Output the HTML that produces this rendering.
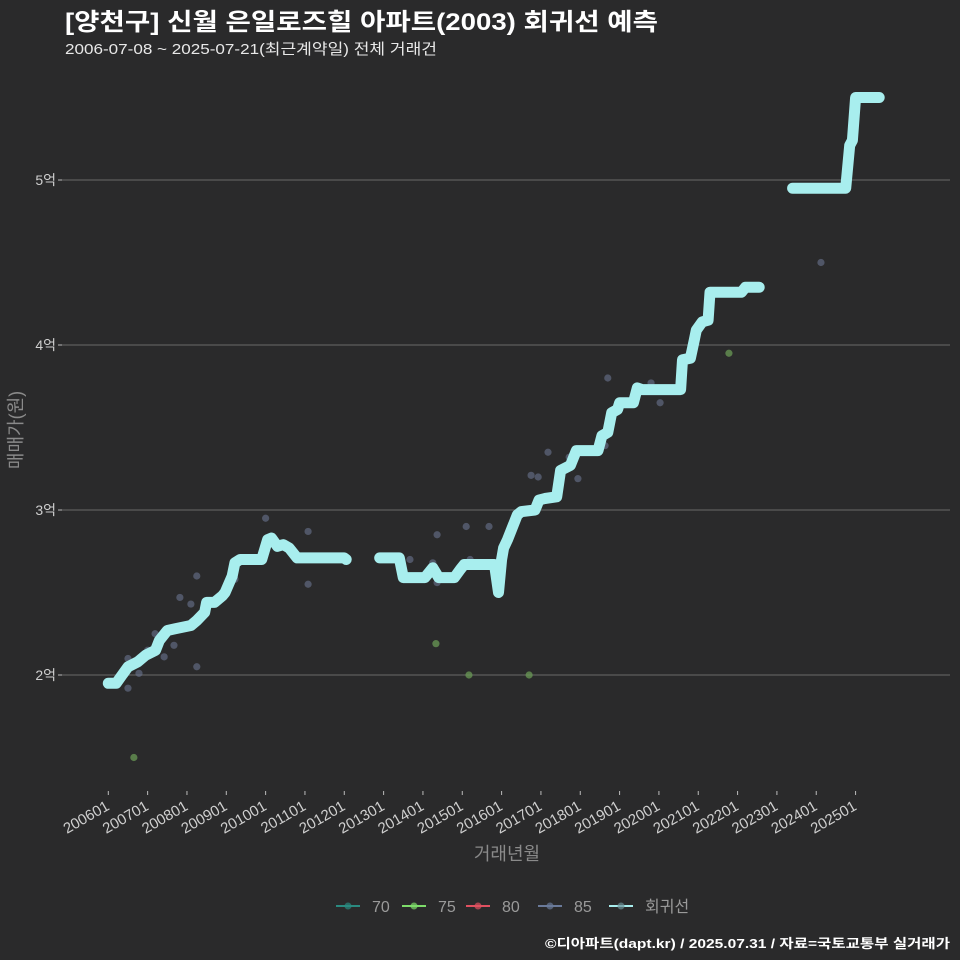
<!DOCTYPE html>
<html><head><meta charset="utf-8">
<style>
body{margin:0;background:#2a2a2b;}
svg{display:block;font-family:"Liberation Sans","Noto Sans CJK KR",sans-serif;}
</style></head>
<body>
<svg id="chart" width="960" height="960">
<rect width="960" height="960" fill="#2a2a2b"/>
<text x="65" y="30" fill="#ffffff" font-size="24" font-weight="bold" textLength="593" lengthAdjust="spacingAndGlyphs">[양천구] 신월 은일로즈힐 아파트(2003) 회귀선 예측</text>
<text x="65" y="54" fill="#e8e8e8" font-size="15" textLength="372" lengthAdjust="spacingAndGlyphs">2006-07-08 ~ 2025-07-21(최근계약일) 전체 거래건</text>
<g id="grid"></g><g id="axes"></g><g id="pts"></g><g id="line"></g>
<text transform="translate(22,430) rotate(-90)" text-anchor="middle" fill="#8a8a8a" font-size="18">매매가(원)</text>
<text x="507" y="860" text-anchor="middle" fill="#8a8a8a" font-size="18">거래년월</text>
<g id="legend"></g>
<text x="545" y="948" fill="#ffffff" font-size="13" font-weight="bold" textLength="405" lengthAdjust="spacingAndGlyphs">©디아파트(dapt.kr) / 2025.07.31 / 자료=국토교통부 실거래가</text>
</svg>
<script>
const yTicks=[2,3,4,5];
const yTickLabels=["2억","3억","4억","5억"];
const xTickYears=[2006,2007,2008,2009,2010,2011,2012,2013,2014,2015,2016,2017,2018,2019,2020,2021,2022,2023,2024,2025];
const seg1Years=[2006.0,2006.2,2006.35,2006.5,2006.75,2006.95,2007.2,2007.3,2007.5,2007.7,2008.1,2008.25,2008.45,2008.5,2008.7,2008.9,2008.97,2009.15,2009.22,2009.35,2009.9,2010.05,2010.15,2010.3,2010.45,2010.6,2010.8,2012.0,2012.05];
const seg1Values=[1.95,1.95,2.0,2.05,2.08,2.12,2.15,2.21,2.27,2.28,2.3,2.33,2.38,2.44,2.44,2.48,2.5,2.6,2.68,2.7,2.7,2.82,2.83,2.78,2.79,2.77,2.71,2.71,2.7];
const seg2Years=[2012.9,2013.4,2013.5,2014.05,2014.25,2014.4,2014.8,2014.95,2015.05,2015.7,2015.82,2015.92,2016.0,2016.05,2016.15,2016.25,2016.4,2016.5,2016.85,2016.95,2017.1,2017.4,2017.5,2017.75,2017.9,2018.45,2018.55,2018.7,2018.8,2018.95,2019.0,2019.35,2019.45,2019.57,2020.55,2020.6,2020.8,2020.9,2020.95,2021.1,2021.25,2021.3,2022.1,2022.2,2022.55];
const seg2Values=[2.71,2.71,2.59,2.59,2.65,2.59,2.59,2.64,2.67,2.67,2.67,2.5,2.7,2.77,2.82,2.88,2.97,2.99,3.0,3.06,3.07,3.08,3.24,3.27,3.36,3.36,3.45,3.47,3.59,3.61,3.65,3.65,3.74,3.73,3.73,3.91,3.92,4.03,4.09,4.14,4.15,4.32,4.32,4.35,4.35];
const seg3Years=[2023.4,2024.75,2024.85,2024.92,2025.0,2025.6];
const seg3Values=[4.95,4.95,5.21,5.24,5.5,5.5];
const pts85Years=[2006.5,2006.5,2006.78,2007.0,2007.19,2007.42,2007.67,2007.82,2008.1,2008.25,2008.25,2009.22,2010.0,2011.08,2011.08,2013.67,2014.25,2014.36,2014.36,2015.1,2015.68,2015.2,2016.75,2016.93,2017.18,2017.72,2017.94,2018.63,2018.7,2019.8,2020.03,2024.12];
const pts85Values=[2.1,1.92,2.01,2.15,2.25,2.11,2.18,2.47,2.43,2.6,2.05,2.58,2.95,2.87,2.55,2.7,2.68,2.85,2.56,2.9,2.9,2.7,3.21,3.2,3.35,3.32,3.19,3.39,3.8,3.77,3.65,4.5];
const pts75Years=[2006.65,2015.17,2016.7,2021.78,2014.33];
const pts75Values=[1.5,2.0,2.0,3.95,2.19];
const legendLabels=["70","75","80","85","회귀선"];
const legendColors=["#2a8a80","#7ddc6a","#e05060","#6a7a9a","#a8eeee"];

const NS="http://www.w3.org/2000/svg";
const X=y=>108.3+(y-2006)*39.33;
const Y=v=>675-(v-2)*165;
function mk(tag,attrs,parent,txt){const e=document.createElementNS(NS,tag);for(const k in attrs)e.setAttribute(k,attrs[k]);if(txt!==undefined)e.textContent=txt;document.getElementById(parent).appendChild(e);return e;}
yTicks.forEach((v,i)=>{
  let g=mk('line',{x1:62,x2:950,y1:Y(v),y2:Y(v),stroke:'#6a6a6a','stroke-width':1},'grid');
  
  
  let tk=mk('line',{x1:58,x2:62,y1:Y(v),y2:Y(v),stroke:'#bbb'},'axes');
  
  
  let t=mk('text',{x:56,y:Y(v)+5,'text-anchor':'end',fill:'#cfcfcf','font-size':14},'axes',yTickLabels[i]);
  
  
});
xTickYears.forEach(yr=>{
  const x=X(yr);
  let tk=mk('line',{x1:x,x2:x,y1:791,y2:795,stroke:'#bbb'},'axes');
  
  
  let t=mk('text',{transform:`translate(${x+2},${809}) rotate(-30)`,'text-anchor':'end',fill:'#cfcfcf','font-size':15},'axes',yr+"01");
  
  
});
pts85Years.forEach((yr,i)=>{
  let c=mk('circle',{cx:X(yr),cy:Y(pts85Values[i]),r:3.6,fill:'#6a7590','fill-opacity':0.6},'pts');
  
  
});
pts75Years.forEach((yr,i)=>{
  let c=mk('circle',{cx:X(yr),cy:Y(pts75Values[i]),r:3.6,fill:'#6a9a55','fill-opacity':0.75},'pts');
  
  
});
[[seg1Years,seg1Values],[seg2Years,seg2Values],[seg3Years,seg3Values]].forEach(([ys,vs])=>{
  let d='';
  ys.forEach((yr,i)=>{d+=(d?'L':'M')+X(yr).toFixed(1)+','+Y(vs[i]).toFixed(1);});
  let p=mk('path',{d:d,fill:'none',stroke:'#a8eeee','stroke-width':11,'stroke-linecap':'round','stroke-linejoin':'round'},'line');
  
  
});
const lx=[336,402,466,538,609];
legendLabels.forEach((l,i)=>{
  let ln=mk('line',{x1:lx[i],x2:lx[i]+24,y1:906,y2:906,stroke:legendColors[i],'stroke-width':2},'legend');
  
  
  let c=mk('circle',{cx:lx[i]+12,cy:906,r:3.5,fill:i===4?'#6a8f95':legendColors[i],'fill-opacity':0.7},'legend');
  
  
  let t=mk('text',{x:lx[i]+36,y:912,fill:'#9a9a9a','font-size':16},'legend',l);
  
  
});
</script>
</body></html>
